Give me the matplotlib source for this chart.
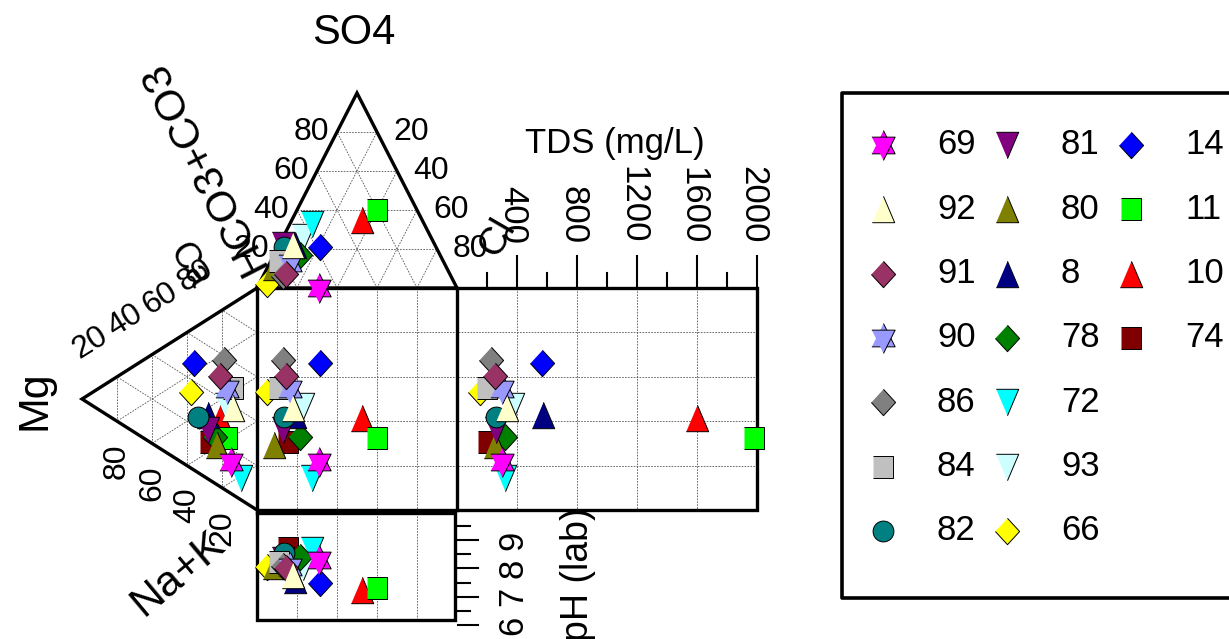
import numpy as np
import matplotlib.pyplot as plt

plt.rcParams['font.family'] = ['Liberation Sans', 'DejaVu Sans']

# samples (legend order) and their chemistry
samples = ['69', '92', '91', '90', '86', '84', '82', '81', '80', '8', '78', '72', '93', '66', '14', '11', '10', '74']
so4 = [0, 22, 7, 13, 6, 14, 21, 22, 11, 22, 17, 33, 26, 2, 21, 40, 35, 15]      # % meq anions
cl = [31, 7, 11, 10, 10, 4, 3, 2, 3, 8, 13, 11, 10, 4, 21, 40, 35, 8]
mg = [15, 14, 21, 17, 19, 14, 34, 28, 23, 28, 24, 9, 18, 38, 36, 17, 21, 27]     # % meq cations
ca = [14, 39, 50, 46, 58, 48, 25, 22, 18, 29, 21, 10, 38, 34, 48, 24, 31, 17]
tds = [298, 333, 253, 298, 225, 198, 260, 258, 253, 573, 320, 320, 371, 153, 565, 1980, 1598, 207]
ph = [8.3, 7.77, 8.0, 8.06, 8.1, 8.24, 8.54, 8.3, 8.1, 7.59, 8.4, 8.65, 8.06, 8.06, 7.47, 7.3, 7.24, 8.71]

colors = ['#FF00FF', '#FFFFCC', '#993366', '#9999FF', '#808080', '#C0C0C0', '#008080', '#800080', '#808000',
          '#000080', '#008000', '#00FFFF', '#CCFFFF', '#FFFF00', '#0000FF', '#00FF00', '#FF0000', '#800000']
symbols = ['hex', 'up', 'dia', 'hex', 'dia', 'sq', 'o', 'down', 'up', 'up', 'dia', 'down', 'down', 'dia',
           'dia', 'sq', 'up', 'sq']

tds_ticks = [400, 800, 1200, 1600, 2000]
ph_ticks = [6, 7, 8, 9]
pct_ticks = [20, 40, 60, 80]

# layout of the Durov diagram (pixels)
L, R = 257, 457
T, B = 288, 510
APEX_Y = 93
APEX_X = 82
TDS_R = 757
TDS_MAX = 2000
PH_T, PH_B, PH_R = 513, 620, 455


def anion_x(s, c):
    return L + (np.asarray(c) + np.asarray(s) / 2) / 100 * (R - L)


def anion_y(s):
    return T - np.asarray(s) / 100 * (T - APEX_Y)


def cation_x(m):
    return L - np.asarray(m) / 100 * (L - APEX_X)


def cation_y(a, m):
    return B - (np.asarray(a) + np.asarray(m) / 2) / 100 * (B - T)


def tds_x(t):
    return R + np.asarray(t) / TDS_MAX * (TDS_R - R)


def ph_y(p):
    return 625 - (np.asarray(p) - 6) * 28.3


mk = {
    'up': ([(-0.85, -1), (0.85, -1), (0, 1)], 19),
    'down': ([(-0.85, 1), (0.85, 1), (0, -1)], 19),
    'hup': ([(-0.78, -0.56), (0.78, -0.56), (0, 1)], 21.5),
    'hdown': ([(-0.78, 0.56), (0.78, 0.56), (0, -1)], 21.5),
    'dia': ([(0, 1), (0.92, 0), (0, -1), (-0.92, 0)], 19),
    'sq': ([(-0.87, -1), (0.87, -1), (0.87, 1), (-0.87, 1)], 16.5),
    'o': ('o', 15),
}


def draw(ax, x, y, sym, col, z):
    parts = ['hup', 'hdown'] if sym == 'hex' else [sym]
    for p in parts:
        m, s = mk[p]
        ax.plot(x, y, ls='none', marker=m, ms=s, mfc=col, mec='k', mew=0.7, zorder=z, clip_on=False)


fig = plt.figure(figsize=(12.29, 6.39), dpi=100)
ax = fig.add_axes([0, 0, 1, 1])
ax.set_xlim(0, 1229)
ax.set_ylim(639, 0)
ax.axis('off')

grid = dict(color='#555555', lw=0.6, ls=(0, (2, 1.5)), zorder=1)
outline = dict(color='k', lw=2.4, zorder=2, solid_joinstyle='miter')

# top (anion) triangle
for k in pct_ticks:
    ax.plot([anion_x(k, 0), anion_x(k, 100 - k)], [anion_y(k)] * 2, **grid)
    ax.plot([anion_x(0, k), anion_x(100 - k, k)], [T, anion_y(100 - k)], **grid)
    ax.plot([anion_x(0, 100 - k), anion_x(100 - k, 0)], [T, anion_y(100 - k)], **grid)
ax.plot([L, anion_x(100, 0), R, L], [T, anion_y(100), T, T], **outline)

# left (cation) triangle
for k in pct_ticks:
    ax.plot([cation_x(k)] * 2, [cation_y(0, k), cation_y(100 - k, k)], **grid)
    ax.plot([L, cation_x(100 - k)], [cation_y(k, 0), cation_y(k, 100 - k)], **grid)
    ax.plot([L, cation_x(100 - k)], [cation_y(100 - k, 0), cation_y(0, 100 - k)], **grid)
ax.plot([L, cation_x(100), L], [T, cation_y(0, 100), B], **outline)

# central square, TDS box, pH box
for k in pct_ticks:
    ax.plot([anion_x(0, k)] * 2, [T, B], **grid)
    ax.plot([anion_x(0, k)] * 2, [PH_T, PH_B], **grid)
    ax.plot([L, TDS_R], [cation_y(k, 0)] * 2, **grid)
for t in tds_ticks[:-1]:
    ax.plot([tds_x(t)] * 2, [T, B], **grid)
ax.plot([L, R, R, L, L], [T, T, B, B, T], **outline)
ax.plot([R, TDS_R, TDS_R, R], [T, T, B, B], **outline)
ax.plot([L, PH_R, PH_R, L, L], [PH_T, PH_T, PH_B, PH_B, PH_T], **outline)

# TDS axis ticks
for t in range(200, 2001, 200):
    ax.plot([tds_x(t)] * 2, [T, T - (32 if t % 400 == 0 else 15)], color='k', lw=1.5, zorder=2)
for t in tds_ticks:
    ax.text(tds_x(t) - 4, T - 44, str(t), rotation=-90, rotation_mode='anchor', ha='right', va='center',
            fontsize=25)
ax.text(615, 143, 'TDS (mg/L)', fontsize=25, ha='center', va='center')

# pH axis ticks
for p in np.arange(6, 9.51, 0.5):
    ax.plot([PH_R + 3, PH_R + (23 if p % 1 == 0 else 15)], [ph_y(p)] * 2, color='k', lw=1.5, zorder=2)
for p in ph_ticks:
    ax.text(513, ph_y(p), str(p), rotation=90, ha='center', va='center', fontsize=25)
ax.text(578, 574, 'pH (lab)', rotation=90, ha='center', va='center', fontsize=27)

# triangle labels
for k in pct_ticks:
    ax.text(anion_x(k, 0) - 8, anion_y(k), str(k), ha='right', va='center', fontsize=23)
    ax.text(anion_x(k, 100 - k) + 16, anion_y(k), str(100 - k), ha='left', va='center', fontsize=23)
    ax.text(cation_x(100 - k) - 27, cation_y(k, 100 - k) - 34, str(k), rotation=32, ha='center', va='center',
            fontsize=23)
    ax.text(cation_x(k), cation_y(0, k) + 40, str(k), rotation=90, ha='center', va='center', fontsize=23)

ax.text(354, 33, 'SO4', fontsize=30, ha='center', va='center')
ax.text(203, 166, 'HCO3+CO3', fontsize=31, rotation=117, ha='center', va='center')
ax.text(497, 237, 'Cl', fontsize=28, rotation=60, ha='center', va='center')
ax.text(34, 400, 'Mg', fontsize=31, rotation=90, ha='center', va='center')
ax.text(188, 266, 'Ca', fontsize=26, rotation=-58, ha='center', va='center')
ax.text(178, 574, 'Na+K', fontsize=31, rotation=40, ha='center', va='center')

# data points, later samples underneath
n = len(samples)
for i in range(n - 1, -1, -1):
    ax_ = anion_x(so4[i], cl[i])
    cy = cation_y(ca[i], mg[i])
    xs = [ax_, cation_x(mg[i]), ax_, tds_x(tds[i]), ax_]
    ys = [anion_y(so4[i]), cy, cy, cy, ph_y(ph[i])]
    draw(ax, xs, ys, symbols[i], colors[i], 10 + n - i)

# legend box
ax.plot([1240, 842, 842, 1240], [93, 93, 598, 598], color='k', lw=2.6, clip_on=False)
for i in range(n):
    col, row = i // 7, i % 7
    y = 145 + row * 64.3
    draw(ax, [883 + col * 124], [y], symbols[i], colors[i], 5)
    ax.text(937 + col * 124, y, samples[i], fontsize=25, ha='left', va='center')

fig.savefig('out.png', dpi=100)
